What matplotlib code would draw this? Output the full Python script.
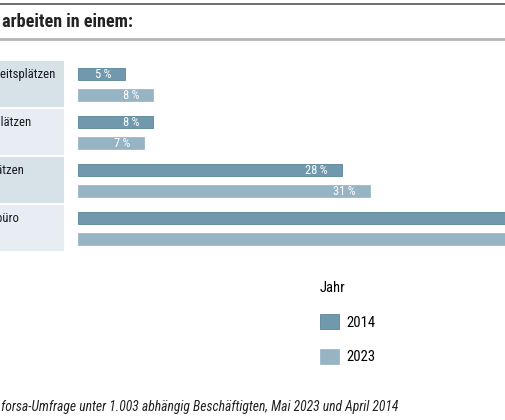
import matplotlib
matplotlib.use('Agg')
import matplotlib.pyplot as plt
import numpy as np

# Daten (Prozent der Beschäftigten)
kategorien = ["Großraumbüro mit mehr als 20 Arbeitsplätzen",
              "Büro mit 5 bis 20 Arbeitsplätzen",
              "Büro mit 2 bis 4 Arbeitsplätzen",
              "Einzelbüro"]
jahre = ["2014", "2023"]
werte_2014 = [5, 8, 28, 59]
werte_2023 = [8, 7, 31, 54]

titel = "Die Beschäftigten arbeiten in einem:"
quelle = "Quelle: forsa-Umfrage unter 1.003 abhängig Beschäftigten, Mai 2023 und April 2014"

farbe_2014 = "#7099ad"
farbe_2023 = "#96b4c3"
panel_farben = ["#d6e1e8", "#e7edf2"]

plt.rcParams['font.family'] = ['Roboto Condensed', 'Roboto', 'DejaVu Sans']

W, H = 506, 420
fig = plt.figure(figsize=(W / 100, H / 100), dpi=100)


def fx(px):
    return px / W


def fy(px):
    return 1 - px / H


# Linien oben
fig.add_artist(plt.Line2D([0, 1], [fy(4), fy(4)], color="#555555", lw=1.2))
fig.add_artist(plt.Line2D([0, 1], [fy(39), fy(39)], color="#b5b5b5", lw=2.0))
fig.text(fx(133), fy(22), titel, ha='right', va='center', fontsize=13.1,
         fontweight='bold', color="#222222")

n = len(kategorien)
y = np.arange(n)

# Beschriftungsfelder links
ax_lab = fig.add_axes([0, fy(252), fx(64), (252 - 60) / H])
ax_lab.barh(y + 0.5, [64] * n, height=0.95, left=0,
            color=[panel_farben[i % 2] for i in range(n)])
ax_lab.set_xlim(0, 64)
ax_lab.set_ylim(n, 0)
ax_lab.axis('off')
label_enden = [55, 31, 24, 19]
for i, k in enumerate(kategorien):
    ax_lab.text(label_enden[i], i + 0.3, k, ha='right', va='center',
                fontsize=9.2, color="#1a1a1a")

# Balken
ax = fig.add_axes([fx(78), fy(252), fx(W - 78), (252 - 60) / H])
b1 = ax.barh(y + 0.3, werte_2014, height=0.25, color=farbe_2014,
             edgecolor="#5a8499", linewidth=0.6, label=jahre[0])
b2 = ax.barh(y + 0.72, werte_2023, height=0.25, color=farbe_2023,
             edgecolor="#86a7b8", linewidth=0.4, label=jahre[1])
ax.set_xlim(0, (W - 78) / 9.42)
ax.set_ylim(n, 0)
ax.axis('off')

for bars, werte in [(b1, werte_2014), (b2, werte_2023)]:
    for rect, v in zip(bars, werte):
        ax.text(v - 1.5, rect.get_y() + rect.get_height() / 2 + 0.01,
                f"{v}\u2009%", ha='right', va='center', fontsize=9,
                color="white")

# Legende
leg = fig.legend(handles=[b1, b2], labels=jahre, title="Jahr",
                 loc='upper left', bbox_to_anchor=(fx(320), fy(281)),
                 frameon=False, fontsize=10.5, title_fontsize=10.5,
                 handlelength=1.3, handleheight=1.25, handletextpad=0.5,
                 labelspacing=1.3, borderpad=0, borderaxespad=0,
                 alignment='left')

fig.text(fx(398), fy(407), quelle, ha='right', va='center', fontsize=9.8,
         style='italic', color="#222222")

fig.savefig("out.png", dpi=100)
